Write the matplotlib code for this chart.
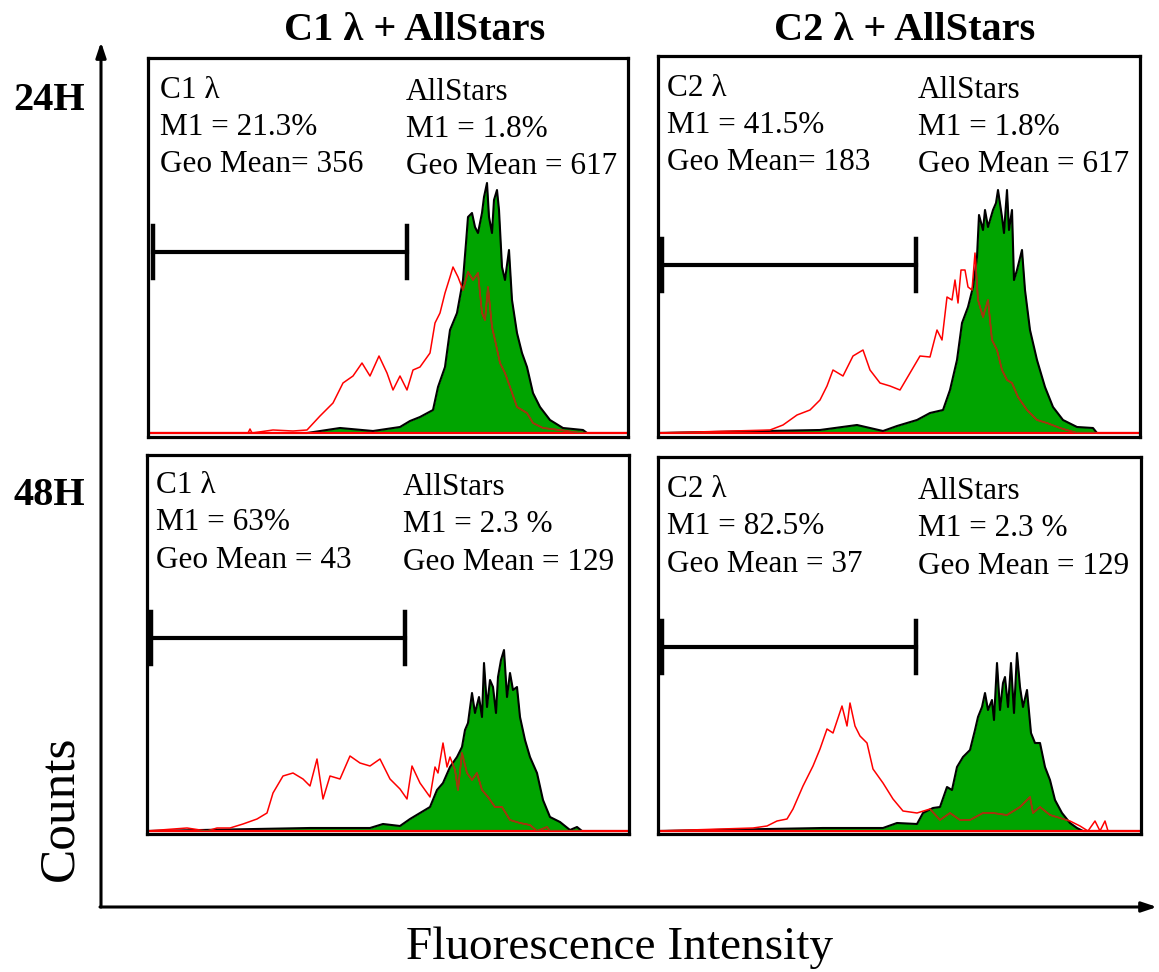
import matplotlib
matplotlib.use("Agg")
import matplotlib.pyplot as plt

plt.rcParams['font.family'] = ['Liberation Serif', 'DejaVu Serif']

# histogram readings: channel position (0-480 across a panel) and counts
tl_green_x = [0, 159, 192, 225, 252, 262, 272, 285, 290, 297, 302, 309, 315, 318, 320, 324, 327, 330,
              334, 336, 339, 341, 344, 346, 349, 351, 354, 357, 361, 364, 369, 374, 379, 385,
              392, 402, 415, 435, 439, 480]
tl_green_y = [0, 0, 5, 2, 6, 12, 16, 23, 46, 66, 103, 120, 153, 190, 216, 220, 206, 200,
              220, 236, 250, 216, 200, 233, 243, 223, 166, 153, 183, 133, 100, 80, 66, 40,
              26, 13, 5, 3, 0, 0]
tl_red_x = [0, 100, 102, 104, 125, 145, 159, 172, 185, 195, 205, 214, 222, 231, 239, 245, 252, 259,
            265, 272, 277, 282, 287, 292, 297, 302, 305, 310, 315, 320, 325, 330, 334, 337,
            340, 344, 347, 352, 357, 362, 369, 379, 385, 395, 412, 432, 480]
tl_red_y = [0, 0, 4, 0, 3, 2, 3, 17, 30, 50, 57, 70, 57, 77, 60, 43, 57, 43,
            63, 66, 73, 80, 110, 120, 140, 156, 166, 156, 143, 161, 153, 160, 120, 113,
            146, 106, 93, 70, 60, 46, 26, 20, 10, 5, 3, 0, 0]

tr_green_x = [0, 162, 199, 225, 239, 259, 272, 285, 292, 299, 304, 310, 315, 319, 321, 325, 327, 330,
              335, 338, 340, 344, 346, 349, 351, 354, 356, 359, 364, 367, 372, 379, 387, 395,
              405, 419, 435, 439, 482]
tr_green_y = [0, 3, 8, 2, 7, 13, 20, 23, 43, 73, 110, 126, 146, 176, 218, 203, 223, 206,
              223, 230, 243, 216, 200, 243, 203, 223, 153, 163, 183, 143, 103, 73, 46, 26,
              13, 6, 5, 0, 0]
tr_red_x = [0, 112, 125, 139, 152, 162, 169, 175, 185, 195, 205, 212, 222, 232, 242, 252, 262, 272,
            279, 284, 289, 294, 297, 300, 303, 307, 310, 314, 317, 320, 325, 330, 334, 339,
            344, 349, 354, 360, 369, 379, 389, 402, 419, 482]
tr_red_y = [0, 3, 8, 18, 23, 33, 47, 63, 57, 77, 83, 63, 50, 47, 43, 60, 77, 76,
            103, 93, 136, 133, 153, 130, 163, 163, 146, 143, 180, 133, 116, 133, 93, 83,
            63, 53, 50, 36, 23, 13, 10, 5, 0, 0]

bl_green_x = [0, 163, 193, 223, 236, 253, 263, 273, 283, 290, 296, 303, 310, 315, 318, 321, 325, 328,
              332, 335, 337, 340, 343, 346, 349, 351, 354, 357, 360, 363, 366, 370, 373, 378,
              383, 390, 396, 403, 413, 423, 430, 435, 482]
bl_green_y = [0, 3, 3, 3, 7, 5, 12, 18, 24, 41, 48, 64, 74, 84, 101, 108, 138, 118,
              134, 114, 168, 124, 151, 144, 118, 154, 171, 181, 134, 158, 141, 144, 114, 91,
              74, 58, 31, 14, 9, 1, 4, 0, 0]
bl_red_x = [0, 40, 60, 70, 83, 96, 110, 120, 126, 136, 146, 156, 163, 170, 176, 183, 193, 203,
            213, 223, 233, 243, 253, 260, 265, 273, 283, 288, 291, 296, 300, 303, 308, 311,
            315, 320, 325, 330, 335, 341, 348, 355, 363, 373, 383, 390, 400, 403, 482]
bl_red_y = [0, 3, 0, 3, 3, 7, 12, 18, 38, 55, 58, 52, 45, 72, 32, 55, 52, 75,
            68, 65, 72, 52, 42, 32, 65, 48, 34, 64, 58, 88, 64, 74, 61, 41,
            78, 58, 51, 58, 41, 34, 24, 24, 11, 8, 6, 0, 4, 0, 0]

br_green_x = [0, 165, 195, 225, 239, 259, 265, 275, 282, 289, 294, 299, 305, 312, 317, 320, 324, 327,
              330, 334, 336, 339, 342, 345, 347, 350, 353, 356, 359, 362, 365, 369, 373, 377,
              382, 387, 392, 397, 404, 412, 419, 425, 483]
br_green_y = [0, 3, 3, 3, 8, 7, 18, 23, 24, 44, 41, 64, 74, 81, 101, 114, 124, 138,
              121, 131, 111, 168, 121, 148, 154, 124, 168, 118, 178, 144, 124, 141, 98, 88,
              88, 64, 51, 31, 18, 8, 3, 0, 0]
br_red_x = [0, 95, 109, 119, 129, 135, 145, 155, 162, 169, 175, 184, 189, 192, 197, 202, 209, 215,
            225, 235, 245, 259, 272, 282, 292, 302, 312, 325, 335, 349, 362, 372, 375, 382,
            392, 402, 412, 422, 430, 437, 442, 447, 450, 483]
br_red_y = [0, 3, 5, 10, 12, 22, 45, 65, 82, 102, 98, 125, 105, 128, 105, 95, 88, 62,
            48, 32, 20, 18, 22, 11, 18, 11, 11, 18, 18, 16, 24, 34, 18, 24,
            16, 13, 10, 5, 0, 10, 0, 10, 0, 0]

# gate marker: left, right, height
gates = [(5, 259, 181), (4, 258, 168), (4, 258, 193), (4, 258, 184)]

sample_names = ['C1 \u03bb', 'C2 \u03bb', 'C1 \u03bb', 'C2 \u03bb']
sample_m1 = ['M1 = 21.3%', 'M1 = 41.5%', 'M1 = 63%', 'M1 = 82.5%']
sample_geo = ['Geo Mean= 356', 'Geo Mean= 183', 'Geo Mean = 43', 'Geo Mean = 37']
ctrl_m1 = ['M1 = 1.8%', 'M1 = 1.8%', 'M1 = 2.3 %', 'M1 = 2.3 %']
ctrl_geo = ['Geo Mean = 617', 'Geo Mean = 617', 'Geo Mean = 129', 'Geo Mean = 129']

col_titles = ['C1 \u03bb + AllStars', 'C2 \u03bb + AllStars']
row_titles = ['24H', '48H']

W, H = 1159, 972
fig = plt.figure(figsize=(W / 100, H / 100), dpi=100)

# panel frames in pixels: left, right, top, bottom, baseline
frames = [(148, 628, 58, 437, 433), (658, 1140, 56, 437, 433),
          (147, 629, 455, 834, 831), (658, 1141, 457, 834, 831)]
# text anchor positions (pixels): sample x, control x, first line y
text_pos = [(160, 406, 90), (667, 918, 88), (156, 403, 485), (667, 918, 489)]

curves = [(tl_green_x, tl_green_y, tl_red_x, tl_red_y),
          (tr_green_x, tr_green_y, tr_red_x, tr_red_y),
          (bl_green_x, bl_green_y, bl_red_x, bl_red_y),
          (br_green_x, br_green_y, br_red_x, br_red_y)]

green = '#00a400'
red = '#ff0000'

for i, (l, r, t, b, base) in enumerate(frames):
    ax = fig.add_axes([l / W, 1 - b / H, (r - l) / W, (b - t) / H])
    gx, gy, rx, ry = curves[i]
    ax.set_xlim(0, r - l)
    ax.set_ylim(-(b - base), base - t)
    poly = ax.fill_between(gx, gy, 0, color=green, lw=0, zorder=2)
    ax.plot(gx, gy, color='black', lw=1.5, zorder=3)
    ax.axhline(0, color=red, lw=1.6, zorder=4)
    ax.plot(rx, ry, color=red, lw=1.1, zorder=5)
    # red trace looks darker where it runs over the green fill
    inner, = ax.plot(rx, ry, color='#9a3a10', lw=1.1, zorder=5.5)
    inner.set_clip_path(poly.get_paths()[0], transform=ax.transData)
    g0, g1, gh = gates[i]
    ax.plot([g0, g1], [gh, gh], color='black', lw=3, zorder=6)
    ax.plot([g0, g0], [gh - 26, gh + 26], color='black', lw=3.2, zorder=6)
    ax.plot([g1, g1], [gh - 26, gh + 26], color='black', lw=3.2, zorder=6)
    ax.set_xticks([])
    ax.set_yticks([])
    for s in ax.spines.values():
        s.set_linewidth(2.3)
        s.set_zorder(7)

# overlay for axis arrows and labels in pixel coordinates
ov = fig.add_axes([0, 0, 1, 1], facecolor='none')
ov.set_xlim(0, W)
ov.set_ylim(H, 0)
ov.axis('off')

arrow = dict(arrowstyle='-|>,head_length=0.9,head_width=0.3', color='black', lw=2.2,
             shrinkA=0, shrinkB=0)
ov.annotate('', xy=(101, 42), xytext=(101, 907), arrowprops=arrow)
ov.annotate('', xy=(1157, 907), xytext=(100, 907), arrowprops=arrow)

fs = 22.5
for i, (sx, cx, y0) in enumerate(text_pos):
    lines_s = [sample_names[i], sample_m1[i], sample_geo[i]]
    lines_c = ['AllStars', ctrl_m1[i], ctrl_geo[i]]
    for k in range(3):
        ov.text(sx, y0 + 37.5 * k, lines_s[k], fontsize=fs, ha='left', va='center')
        ov.text(cx, y0 + 2 + 37.5 * k, lines_c[k], fontsize=fs, ha='left', va='center')

ov.text(415, 30, col_titles[0], fontsize=29, fontweight='bold', ha='center', va='center')
ov.text(905, 30, col_titles[1], fontsize=29, fontweight='bold', ha='center', va='center')
ov.text(49, 101, row_titles[0], fontsize=29, fontweight='bold', ha='center', va='center')
ov.text(49, 495, row_titles[1], fontsize=29, fontweight='bold', ha='center', va='center')
ov.text(60, 808, 'Counts', fontsize=37, rotation=90, ha='center', va='center')
ov.text(620, 948, 'Fluorescence Intensity', fontsize=34, ha='center', va='center')

fig.savefig('out.png', dpi=100)
